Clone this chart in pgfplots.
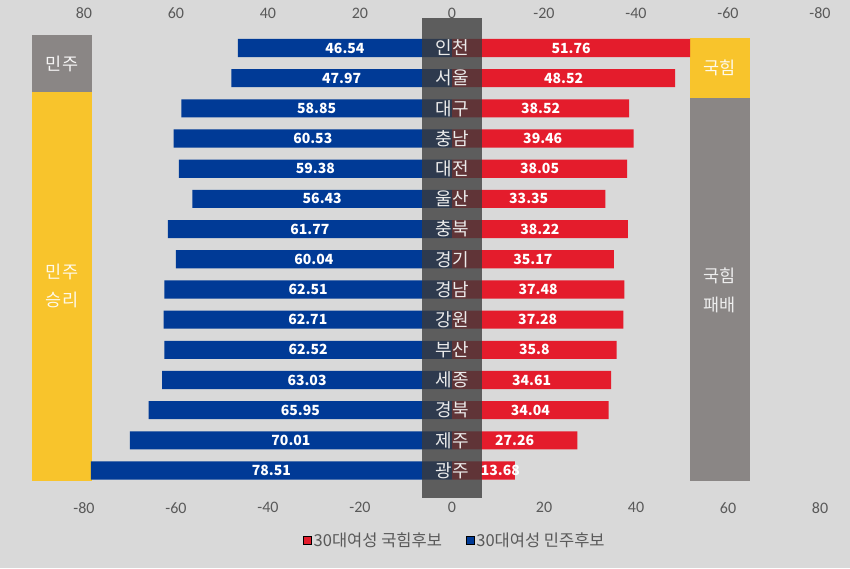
\documentclass[border=0pt]{standalone}
\usepackage{fontspec}
\setmainfont{Noto Sans CJK KR}
\newfontfamily\carlito{Carlito}
\usepackage{pgfplots}
\usepackage{pgfplotstable}
\pgfplotsset{compat=1.18}
\definecolor{bg}{HTML}{D9D9D9}
\definecolor{demblue}{HTML}{003A96}
\definecolor{pppred}{HTML}{E41C2C}
\definecolor{winyellow}{HTML}{F8C42C}
\definecolor{boxgray}{HTML}{8A8685}
\definecolor{tickgray}{HTML}{595959}
\definecolor{colgray}{HTML}{3B3B3B}

\pgfplotstableread{
y name dem ppp pplx
15 인천 46.54 51.76 25.88
14 서울 47.97 48.52 24.26
13 대구 58.85 38.52 19.26
12 충남 60.53 39.46 19.73
11 대전 59.38 38.05 19.03
10 울산 56.43 33.35 16.68
9 충북 61.77 38.22 19.11
8 경기 60.04 35.17 17.59
7 경남 62.51 37.48 18.74
6 강원 62.71 37.28 18.64
5 부산 62.52 35.8 17.90
4 세종 63.03 34.61 17.31
3 경북 65.95 34.04 17.02
2 제주 70.01 27.26 13.63
1 광주 78.51 13.68 10.50
}\data

\begin{document}
\begin{tikzpicture}
\fill[bg, use as bounding box] (0pt,0pt) rectangle (850pt,568pt);
\begin{axis}[
  at={(84pt,70pt)}, anchor=south west,
  scale only axis, width=736pt, height=480pt,
  xmin=-80, xmax=80, ymin=0.09, ymax=15.994,
  clip=false,
  axis line style={draw=none},
  major tick length=0pt, tick style={draw=none},
  ytick=\empty,
  xtick={-80,-60,...,80},
  xticklabel style={font=\carlito\fontsize{16}{16}\selectfont, text=tickgray, yshift=-1pt},
  /pgf/number format/assume math mode=true,
  legend columns=2,
  legend image code/.code={\fill[#1] (0pt,-4pt) rectangle (8pt,4pt);},
  legend style={at={(0.5,0)}, anchor=center, yshift=-42pt, xshift=3pt,
    draw=none, fill=none, font=\fontsize{16.5}{16.5}\selectfont, text=tickgray,
    /tikz/every even column/.append style={column sep=22pt}},
]
% side boxes
\fill[boxgray] (axis cs:-91.3,15.43) rectangle (axis cs:-78.26,13.54);
\fill[winyellow] (axis cs:-91.3,13.54) rectangle (axis cs:-78.26,0.663);
\fill[winyellow] (axis cs:51.74,15.33) rectangle (axis cs:64.78,13.34);
\fill[boxgray] (axis cs:51.74,13.34) rectangle (axis cs:64.78,0.663);
\node[text=white!92!boxgray, font=\fontsize{17.5}{17.5}\selectfont] at (axis cs:-84.78,14.485) {민주};
\node[text=white!90!winyellow, font=\fontsize{17.5}{28}\selectfont, align=center] at (axis cs:-84.78,7.114) {민주\\승리};
\node[text=white!90!winyellow, font=\fontsize{17.5}{17.5}\selectfont] at (axis cs:58.26,14.337) {국힘};
\node[text=white!85!boxgray, font=\fontsize{17.5}{29}\selectfont, align=center] at (axis cs:58.26,6.98) {국힘\\패배};
% bars
\addplot[xbar, bar width=0.6, bar shift=0pt, fill=demblue, draw=none, forget plot]
  table[x expr=-\thisrow{dem}, y=y] {\data};
\addplot[xbar, bar width=0.6, bar shift=0pt, fill=pppred, draw=none, forget plot]
  table[x=ppp, y=y] {\data};
% centre column
\fill[colgray, fill opacity=0.78] (axis cs:-6.5,0.09) rectangle (axis cs:6.5,15.994);
% region names
\addplot[draw=none, mark=none, forget plot, nodes near coords, point meta=explicit symbolic,
  nodes near coords style={anchor=center, text=white!92!black, font=\fontsize{18}{18}\selectfont}]
  table[x expr=0, y=y, meta=name] {\data};
% value labels
\addplot[draw=none, mark=none, forget plot, nodes near coords, point meta=explicit symbolic,
  nodes near coords style={anchor=center, text=white, font=\bfseries\fontsize{14}{14}\selectfont}]
  table[x expr=-\thisrow{dem}/2, y=y, meta=dem] {\data};
\addplot[draw=none, mark=none, forget plot, nodes near coords, point meta=explicit symbolic,
  nodes near coords style={anchor=center, text=white, font=\bfseries\fontsize{14}{14}\selectfont}]
  table[x=pplx, y=y, meta=ppp] {\data};
\addlegendimage{fill=pppred}
\addlegendentry{30대여성 국힘후보}
\addlegendimage{fill=demblue}
\addlegendentry{30대여성 민주후보}
\end{axis}
\begin{axis}[
  at={(84pt,70pt)}, anchor=south west,
  scale only axis, width=736pt, height=480pt,
  xmin=-80, xmax=80, ymin=0, ymax=1, x dir=reverse,
  axis line style={draw=none},
  major tick length=0pt, tick style={draw=none},
  hide y axis,
  xticklabel pos=upper,
  xtick={-80,-60,...,80},
  xticklabel style={font=\carlito\fontsize{16}{16}\selectfont, text=tickgray, yshift=-4.5pt},
  /pgf/number format/assume math mode=true,
]
\end{axis}
\end{tikzpicture}
\end{document}
